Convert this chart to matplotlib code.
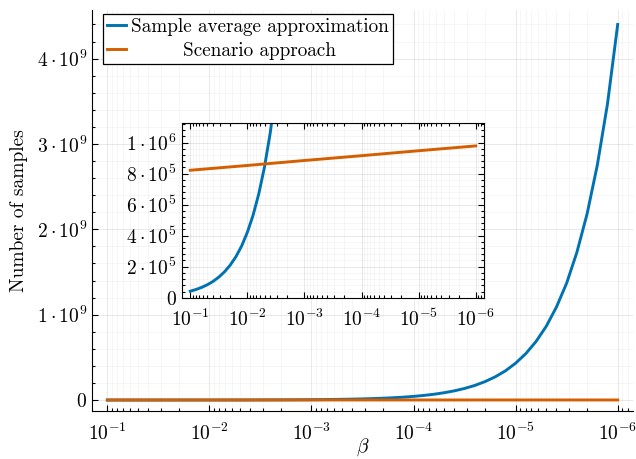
import numpy as np
import matplotlib
matplotlib.use("Agg")
import matplotlib.pyplot as plt
from matplotlib.ticker import LogLocator, MultipleLocator, NullFormatter

plt.rcParams["font.family"] = ["cmr10", "DejaVu Serif"]
plt.rcParams["mathtext.fontset"] = "cm"
plt.rcParams["axes.unicode_minus"] = False
plt.rcParams["axes.formatter.use_mathtext"] = True

# risk level grid (10^-1 ... 10^-6, 0.1 decade steps)
beta = np.logspace(-1, -6, 51)

# sample average approximation: required number of samples
saa = np.array([
    4.20e4, 5.29e4, 6.66e4, 8.38e4, 1.055e5, 1.328e5, 1.672e5, 2.105e5, 2.65e5, 3.336e5,
    4.22e5, 5.32e5, 6.70e5, 8.43e5, 1.062e6, 1.337e6, 1.684e6, 2.12e6, 2.67e6, 3.36e6,
    4.25e6, 5.36e6, 6.75e6, 8.50e6, 1.07e7, 1.35e7, 1.70e7, 2.14e7, 2.69e7, 3.39e7,
    4.28e7, 5.40e7, 6.80e7, 8.57e7, 1.08e8, 1.36e8, 1.71e8, 2.16e8, 2.72e8, 3.42e8,
    4.32e8, 5.44e8, 6.86e8, 8.64e8, 1.09e9, 1.37e9, 1.73e9, 2.18e9, 2.75e9, 3.47e9,
    4.40e9,
])

# scenario approach: required number of samples
beta_sc = np.array([1e-1, 1e-2, 1e-3, 1e-4, 1e-5, 1e-6])
scenario = np.array([8.22e5, 8.53e5, 8.85e5, 9.16e5, 9.48e5, 9.79e5])

x_ticks = [1e-1, 1e-2, 1e-3, 1e-4, 1e-5, 1e-6]
x_labels = [r"$10^{-1}$", r"$10^{-2}$", r"$10^{-3}$", r"$10^{-4}$", r"$10^{-5}$", r"$10^{-6}$"]
main_y_ticks = [0, 1e9, 2e9, 3e9, 4e9]
main_y_labels = ["$0$", r"$1\cdot10^{9}$", r"$2\cdot10^{9}$", r"$3\cdot10^{9}$", r"$4\cdot10^{9}$"]
inset_y_ticks = [0, 2e5, 4e5, 6e5, 8e5, 1e6]
inset_y_labels = ["$0$", r"$2\cdot10^{5}$", r"$4\cdot10^{5}$", r"$6\cdot10^{5}$",
                  r"$8\cdot10^{5}$", r"$1\cdot10^{6}$"]

BLUE = "#0072B2"
ORANGE = "#D55E00"
FS = 14


def style_axes(ax, box=False):
    ax.set_xscale("log")
    ax.set_xlim(10 ** -0.85, 10 ** -6.15)
    ax.set_xticks(x_ticks)
    ax.set_xticklabels(x_labels)
    ax.xaxis.set_minor_locator(LogLocator(base=10, subs=np.arange(2, 10), numticks=20))
    ax.xaxis.set_minor_formatter(NullFormatter())
    ax.grid(True, which="major", color="k", alpha=0.1, lw=0.6)
    ax.grid(True, which="minor", color="k", alpha=0.05, lw=0.5)
    ax.tick_params(which="both", direction="in", labelsize=FS, width=0.8,
                   top=box, right=box)
    ax.tick_params(which="major", length=4)
    ax.tick_params(which="minor", length=2.5)
    ax.tick_params(axis="x", pad=8)
    for side in ["top", "right"]:
        ax.spines[side].set_visible(box)
    ax.set_axisbelow(True)


fig = plt.figure(figsize=(6.36, 4.59), dpi=100)

ax = fig.add_axes([0.1447, 0.1037, 0.8506, 0.8752])
style_axes(ax)
ax.plot(beta, saa, color=BLUE, lw=2.1, label="Sample average approximation")
ax.plot(beta_sc, scenario, color=ORANGE, lw=2.1, label="Scenario approach")
ax.set_ylim(-0.133e9, 4.573e9)
ax.set_yticks(main_y_ticks)
ax.set_yticklabels(main_y_labels)
ax.yaxis.set_minor_locator(MultipleLocator(0.2e9))
ax.set_xlabel(r"$\beta$", fontsize=FS, labelpad=-5)
ax.set_ylabel("Number of samples", fontsize=FS, labelpad=6)

leg = ax.legend(loc="upper left", bbox_to_anchor=(0.02, 0.99), borderaxespad=0,
                fontsize=13.8, fancybox=False, edgecolor="black", framealpha=1,
                handlelength=1.0, handletextpad=0.25, labelspacing=0.3,
                borderpad=0.22)
leg.get_frame().set_linewidth(0.9)

ins = fig.add_axes([0.2857, 0.3514, 0.4758, 0.380])
style_axes(ins, box=True)
ins.set_facecolor("white")
ins.plot(beta, saa, color=BLUE, lw=2.1)
ins.plot(beta_sc, scenario, color=ORANGE, lw=2.1)
ins.set_ylim(0, 1.125e6)
ins.set_yticks(inset_y_ticks)
ins.set_yticklabels(inset_y_labels)
ins.yaxis.set_minor_locator(MultipleLocator(0.4e5))

# centre the legend labels like the original
fig.canvas.draw()
r = fig.canvas.get_renderer()
texts = leg.get_texts()
widths = [t.get_window_extent(r).width for t in texts]
for t, w in zip(texts, widths):
    t.set_x((max(widths) - w) / 2)

fig.savefig("out.png", dpi=100)
